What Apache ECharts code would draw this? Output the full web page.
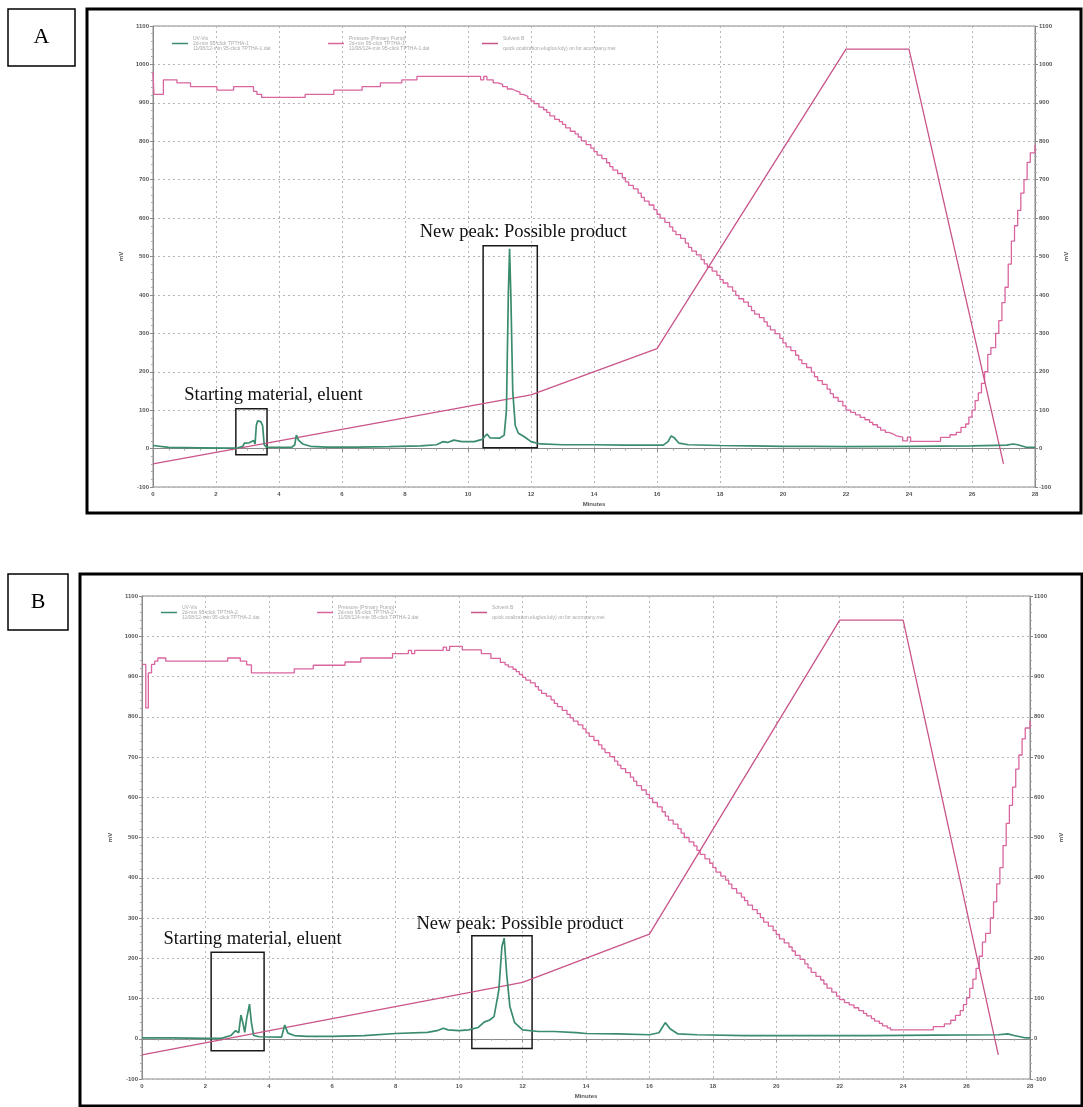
<!DOCTYPE html>
<html>
<head>
<meta charset="utf-8">
<script src="https://cdn.jsdelivr.net/npm/echarts@6/dist/echarts.min.js"></script>
<style>
html, body { margin: 0; padding: 0; background: #fff; }
#chart { width: 1083px; height: 1107px; }
</style>
</head>
<body>
<div id="chart"></div>
<script>
// run A: UV-Vis trace [min, mV]
const uvA = [
  [0, 8], [0.05, 4], [0.5, 3], [1.5, 2], [2.5, 1], [2.7, 2], [2.85, 6], [2.9, 14], [3.05, 15],
  [3.1, 18], [3.2, 21], [3.24, 12], [3.28, 60], [3.32, 72], [3.42, 70], [3.48, 60], [3.53, 10],
  [3.6, 4], [4.4, 3], [4.5, 10], [4.55, 35], [4.62, 22], [4.75, 12], [5.0, 6], [5.5, 4],
  [6.5, 4], [7.5, 5], [8.5, 7], [9.0, 10], [9.2, 18], [9.35, 16], [9.55, 22], [9.8, 18],
  [10.2, 18], [10.45, 24], [10.6, 38], [10.7, 28], [11.0, 27], [11.15, 35], [11.22, 100],
  [11.28, 400], [11.32, 520], [11.36, 400], [11.42, 150], [11.5, 60], [11.6, 40], [11.8, 30],
  [12.0, 18], [12.3, 12], [13, 10], [14, 10], [15, 9], [16.2, 9], [16.35, 18], [16.45, 33],
  [16.55, 28], [16.7, 14], [17, 10], [18, 8], [19, 7], [20, 6], [21, 6], [22, 5], [24, 6],
  [26, 7], [27.1, 9], [27.3, 12], [27.45, 10], [27.7, 4], [28, 3]
];

// run A: pump pressure, level starting at each time
const pressureA = [
  [0, 980], [0.03, 922], [0.33, 960], [0.76, 952], [1.19, 942], [2.03, 933], [2.56, 942],
  [3.19, 930], [3.3, 922], [3.45, 914], [4.83, 922], [5.74, 933], [6.64, 942], [7.22, 952],
  [7.9, 960], [8.38, 969], [10.4, 960], [10.5, 969], [10.6, 960], [10.8, 952], [10.95, 948],
  [11.1, 942], [11.25, 936], [11.4, 932], [11.5, 928], [11.65, 922], [11.75, 917], [11.9, 911],
  [12.0, 905], [12.1, 898], [12.25, 889], [12.4, 882], [12.5, 875], [12.6, 866], [12.75, 857],
  [12.9, 851], [13.0, 844], [13.1, 835], [13.25, 826], [13.4, 819], [13.5, 811], [13.6, 801],
  [13.75, 791], [13.9, 782], [14.0, 773], [14.1, 764], [14.25, 755], [14.4, 744], [14.5, 734],
  [14.6, 725], [14.75, 716], [14.9, 705], [15.0, 694], [15.1, 685], [15.25, 676], [15.4, 665],
  [15.5, 654], [15.6, 644], [15.75, 634], [15.9, 622], [16.0, 610], [16.1, 600], [16.25, 589],
  [16.4, 577], [16.5, 566], [16.6, 557], [16.75, 547], [16.9, 535], [17.0, 524], [17.1, 514],
  [17.25, 504], [17.4, 492], [17.5, 481], [17.6, 472], [17.75, 462], [17.9, 451], [18.0, 440],
  [18.1, 431], [18.25, 421], [18.4, 410], [18.5, 399], [18.6, 390], [18.75, 381], [18.9, 370],
  [19.0, 359], [19.1, 350], [19.25, 341], [19.4, 330], [19.5, 319], [19.6, 309], [19.75, 299],
  [19.9, 287], [20.0, 275], [20.1, 265], [20.25, 255], [20.4, 243], [20.5, 231], [20.6, 221],
  [20.75, 211], [20.9, 199], [21.0, 187], [21.1, 177], [21.25, 167], [21.4, 155], [21.5, 143],
  [21.6, 133], [21.75, 123], [21.9, 111], [22.0, 100], [22.15, 94], [22.3, 88], [22.45, 81],
  [22.6, 75], [22.75, 68], [22.85, 62], [23.0, 55], [23.1, 48], [23.25, 42], [23.35, 38],
  [23.5, 33], [23.6, 30], [23.8, 20], [23.95, 30], [24.05, 19], [25.0, 29], [25.3, 36],
  [25.5, 42], [25.65, 55], [25.8, 64], [25.9, 82], [26.0, 100], [26.1, 125], [26.2, 145],
  [26.3, 170], [26.4, 200], [26.5, 245], [26.6, 263], [26.75, 300], [26.85, 333], [26.95, 380],
  [27.05, 420], [27.15, 480], [27.25, 540], [27.35, 580], [27.45, 620], [27.55, 665],
  [27.65, 700], [27.75, 745], [27.85, 770], [28, 790]
];

// run B: UV-Vis trace
const uvB = [
  [0, 2], [1, 2], [2, 1], [2.5, 1], [2.8, 8], [2.95, 20], [3.05, 15], [3.12, 59], [3.18, 40],
  [3.24, 16], [3.3, 50], [3.39, 86], [3.45, 40], [3.52, 8], [3.7, 5], [4.4, 4], [4.5, 34],
  [4.6, 14], [4.8, 8], [5.2, 6], [6, 6], [7, 8], [8, 13], [9, 16], [9.3, 20], [9.5, 26],
  [9.65, 22], [10, 20], [10.3, 22], [10.6, 28], [10.8, 42], [10.95, 46], [11.1, 55],
  [11.25, 120], [11.35, 230], [11.42, 250], [11.5, 160], [11.6, 80], [11.75, 40], [12, 22],
  [12.5, 18], [13, 18], [13.7, 15], [14, 13], [15, 12], [16, 10], [16.3, 15], [16.5, 40],
  [16.65, 25], [16.9, 12], [17.5, 10], [19, 8], [21, 8], [23, 8], [25, 9], [27, 10],
  [27.3, 12], [27.5, 8], [27.8, 3], [28, 2]
];

// run B: pump pressure
const pressureB = [
  [0, 930], [0.12, 822], [0.2, 909], [0.3, 930], [0.4, 938], [0.5, 946], [0.75, 938],
  [2.7, 946], [3.1, 938], [3.3, 929], [3.45, 909], [4.8, 919], [5.4, 928], [6.4, 936],
  [6.9, 946], [7.9, 957], [8.4, 965], [8.5, 957], [8.6, 965], [9.5, 973], [9.6, 965],
  [9.7, 975], [10.1, 966], [10.7, 957], [11.0, 945], [11.3, 935], [11.45, 929], [11.55, 924],
  [11.7, 918], [11.8, 912], [11.9, 905], [12.0, 898], [12.1, 891], [12.25, 884], [12.4, 875],
  [12.5, 866], [12.6, 858], [12.75, 851], [12.9, 842], [13.0, 833], [13.1, 825], [13.25, 816],
  [13.4, 806], [13.5, 797], [13.6, 789], [13.75, 780], [13.9, 770], [14.0, 760], [14.1, 751],
  [14.25, 741], [14.4, 730], [14.5, 720], [14.6, 711], [14.75, 701], [14.9, 690], [15.0, 680],
  [15.1, 671], [15.25, 661], [15.4, 650], [15.5, 640], [15.6, 629], [15.75, 618], [15.9, 607],
  [16.0, 597], [16.1, 587], [16.25, 576], [16.4, 564], [16.5, 553], [16.6, 543], [16.75, 533],
  [16.9, 522], [17.0, 511], [17.1, 500], [17.25, 489], [17.4, 479], [17.5, 468], [17.6, 458],
  [17.75, 447], [17.9, 436], [18.0, 425], [18.1, 414], [18.25, 404], [18.4, 394], [18.5, 384],
  [18.6, 373], [18.75, 362], [18.9, 352], [19.0, 343], [19.1, 332], [19.25, 321], [19.4, 311],
  [19.5, 301], [19.6, 290], [19.75, 280], [19.9, 269], [20.0, 259], [20.1, 248], [20.25, 238],
  [20.4, 228], [20.5, 218], [20.6, 207], [20.75, 197], [20.9, 186], [21.0, 176], [21.1, 165],
  [21.25, 155], [21.4, 146], [21.5, 136], [21.6, 126], [21.75, 116], [21.9, 106], [22.0, 97],
  [22.15, 90], [22.3, 84], [22.45, 77], [22.6, 70], [22.75, 63], [22.85, 57], [23.0, 50],
  [23.1, 44], [23.25, 38], [23.35, 32], [23.5, 27], [23.6, 22], [24.95, 30], [25.3, 37],
  [25.5, 46], [25.65, 58], [25.8, 70], [25.9, 85], [26.0, 102], [26.1, 125], [26.2, 148],
  [26.3, 175], [26.4, 205], [26.5, 240], [26.6, 262], [26.75, 300], [26.85, 340], [26.95, 385],
  [27.05, 425], [27.15, 480], [27.25, 535], [27.35, 580], [27.45, 625], [27.55, 670],
  [27.65, 705], [27.75, 745], [27.85, 772], [28, 790]
];

// solvent B gradient program (same for both runs)
const gradient = [[0, -40], [12, 140], [16, 260], [22, 1040], [24, 1040], [27, -40]];

// annotation boxes [t1, v1, t2, v2]
const boxesA = [[2.63, 104, 3.62, -16], [10.48, 528, 12.2, 2]];
const boxesB = [[2.18, 215, 3.85, -30], [10.4, 256, 12.3, -24]];
const boxTexts = ['Starting material, eluent', 'New peak: Possible product'];

const legendTexts = {
  'UV A': 'UV-Vis\n2d-min 95-click TPTHA-1\n11/08/12-min 95-click TPTHA-1.dat',
  'Pressure A': 'Pressure (Primary Pump)\n2d-min 95-click TPTHA-1\n11/08/124-min 95-click TPTHA-1.dat',
  'Solvent A': 'Solvent B\n \nquick ocalization.eluglus.kdy) on for acompany.met',
  'UV B': 'UV-Vis\n2d-min 95-click TPTHA-2\n11/08/12-min 95-click TPTHA-2.dat',
  'Pressure B': 'Pressure (Primary Pump)\n2d-min 95-click TPTHA-2\n11/08/124-min 95-click TPTHA-2.dat',
  'Solvent B': 'Solvent B\n \nquick ocalization.eluglus.kdy) on for acompany.met'
};

const GREEN = '#3a8c6c';
const PINK = '#d9649e';
const PINK2 = '#c9548a';
const axisText = { fontSize: 6, color: '#555', fontWeight: 'bold', fontFamily: 'Liberation Sans' };

function makeGrid(left, top, width, height) {
  return { left: left, top: top, width: width, height: height, show: true,
    borderColor: '#8a8a8a', borderWidth: 1, backgroundColor: 'transparent' };
}

function makeX(gridIndex) {
  return {
    type: 'value', gridIndex: gridIndex, min: 0, max: 28, interval: 2,
    name: 'Minutes', nameLocation: 'middle', nameGap: 14,
    nameTextStyle: axisText,
    axisLine: { lineStyle: { color: '#8a8a8a' } },
    axisTick: { length: 3, lineStyle: { color: '#8a8a8a' } },
    minorTick: { show: true, splitNumber: 4, length: 2, lineStyle: { color: '#aaa' } },
    axisLabel: Object.assign({ margin: 4, formatter: (v) => String(v) }, axisText),
    splitLine: { show: true, lineStyle: { color: '#b5b5b5', type: [2, 3], width: 1 } }
  };
}

function makeY(gridIndex, position) {
  return {
    type: 'value', gridIndex: gridIndex, position: position, min: -100, max: 1100, interval: 100,
    name: 'mV', nameLocation: 'middle', nameGap: 26, nameRotate: 90,
    nameTextStyle: axisText,
    axisLine: { show: true, lineStyle: { color: '#8a8a8a' } },
    axisTick: { show: true, length: 3, lineStyle: { color: '#8a8a8a' } },
    minorTick: { show: true, splitNumber: 5, length: 2, lineStyle: { color: '#aaa' } },
    axisLabel: Object.assign({ margin: 4, formatter: (v) => String(v) }, axisText),
    splitLine: { show: position === 'left', lineStyle: { color: '#b5b5b5', type: [2, 3], width: 1 } }
  };
}

function boxArea(boxes, labelOffsets) {
  return {
    silent: true,
    itemStyle: { color: 'rgba(0,0,0,0)', borderColor: '#1a1a1a', borderWidth: 1.5 },
    label: { show: true, position: 'top', distance: 3, color: '#111', fontSize: 18.5,
      fontFamily: 'Liberation Serif' },
    data: boxes.map((b, i) => [
      { coord: [b[0], b[1]], label: { formatter: boxTexts[i], offset: labelOffsets[i] } },
      { coord: [b[2], b[3]] }
    ])
  };
}

function panelSeries(idx, tag, uv, pressure, boxes, offsets) {
  return [
    { name: 'UV ' + tag, type: 'line', xAxisIndex: idx, yAxisIndex: idx * 2, data: uv,
      showSymbol: false, color: GREEN, lineStyle: { width: 1.7, color: GREEN }, z: 4,
      markArea: boxArea(boxes, offsets) },
    { name: 'Pressure ' + tag, type: 'line', xAxisIndex: idx, yAxisIndex: idx * 2, data: pressure,
      step: 'end', showSymbol: false, color: PINK, lineStyle: { width: 1.3, color: PINK }, z: 3 },
    { name: 'Solvent ' + tag, type: 'line', xAxisIndex: idx, yAxisIndex: idx * 2 + 1, data: gradient,
      showSymbol: false, color: PINK2, lineStyle: { width: 1.3, color: PINK2 }, z: 3 }
  ];
}

function legendAt(name, left, top) {
  return {
    data: [name], left: left, top: top, orient: 'horizontal', selectedMode: false,
    icon: 'rect', itemWidth: 16, itemHeight: 1.5, itemGap: 4,
    formatter: (n) => legendTexts[n],
    textStyle: { fontSize: 5, lineHeight: 5, color: '#a8a8a8', fontFamily: 'Liberation Sans' }
  };
}

function frame(x, y, w, h, lw) {
  return { type: 'rect', shape: { x: x, y: y, width: w, height: h },
    style: { fill: null, stroke: '#000', lineWidth: lw }, z: 100 };
}

function tag(x, y, w, h, text) {
  return { type: 'group', children: [
    frame(x, y, w, h, 1.5),
    { type: 'text', x: x + w / 2, y: y + h / 2, style: { text: text, fill: '#000',
      font: '22px "Liberation Serif"', align: 'center', verticalAlign: 'middle' } }
  ] };
}

const chart = echarts.init(document.getElementById('chart'));
chart.setOption({
  animation: false,
  backgroundColor: '#fff',
  grid: [makeGrid(153, 26, 882, 461), makeGrid(142, 596, 888, 483)],
  xAxis: [makeX(0), makeX(1)],
  yAxis: [makeY(0, 'left'), makeY(0, 'right'), makeY(1, 'left'), makeY(1, 'right')],
  legend: [
    legendAt('UV A', 167, 31), legendAt('Pressure A', 323, 31), legendAt('Solvent A', 477, 31),
    legendAt('UV B', 156, 600), legendAt('Pressure B', 312, 600), legendAt('Solvent B', 466, 600)
  ],
  series: [].concat(
    panelSeries(0, 'A', uvA, pressureA, boxesA, [[22, 0], [13, 0]]),
    panelSeries(1, 'B', uvB, pressureB, boxesB, [[15, 0], [18, 2]])
  ),
  graphic: [
    frame(87, 9, 994, 504, 3),
    frame(80, 574, 1002, 532, 3),
    tag(8, 9, 67, 57, 'A'),
    tag(8, 574, 60, 56, 'B')
  ]
});
</script>
</body>
</html>
